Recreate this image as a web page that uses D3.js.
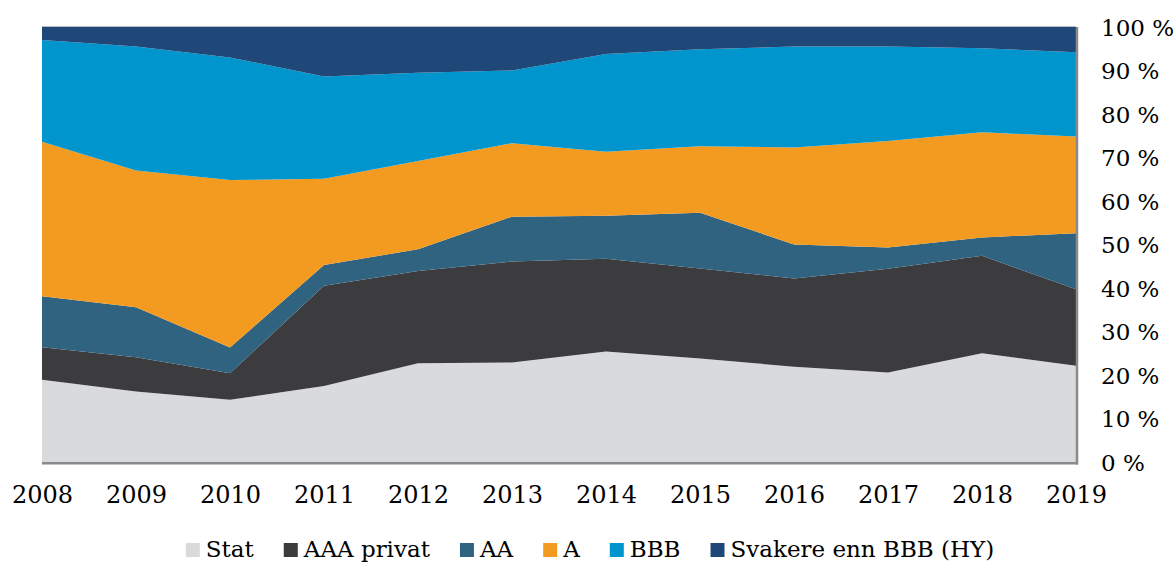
<!DOCTYPE html>
<html>
<head>
<meta charset="utf-8">
<script src="https://cdn.jsdelivr.net/npm/d3@7"></script>
<style>
	body { margin: 0; background: #fff; }
	svg { display: block; }
	text { font-family: "DejaVu Serif", serif; fill: #000; }
</style>
</head>
<body>
<div id="chart"></div>
<script>
//years on the x axis
var years = [2008, 2009, 2010, 2011, 2012, 2013, 2014, 2015, 2016, 2017, 2018, 2019];

//share of portfolio per rating, percent
var stat = [18.9, 16.2, 14.3, 17.5, 22.7, 22.9, 25.4, 23.8, 21.9, 20.6, 25.0, 22.1];
var aaaPrivat = [7.5, 7.9, 6.1, 23.0, 21.2, 23.2, 21.3, 20.7, 20.3, 23.8, 22.4, 17.6];
var aa = [11.7, 11.5, 5.9, 4.8, 5.0, 10.3, 9.9, 12.8, 7.8, 4.9, 4.2, 12.9];
var a = [35.5, 31.4, 38.5, 19.8, 20.3, 16.9, 14.7, 15.3, 22.3, 24.5, 24.2, 22.2];
var bbb = [23.4, 28.5, 28.2, 23.5, 20.3, 16.7, 22.5, 22.3, 23.2, 21.7, 19.3, 19.4];
var hy = [3.0, 4.5, 7.0, 11.4, 10.5, 10.0, 6.2, 5.1, 4.5, 4.5, 4.9, 5.8];

var seriesNames = ["Stat", "AAA privat", "AA", "A", "BBB", "Svakere enn BBB (HY)"];
var seriesColors = ["#d9dadc", "#3c3b3d", "#30637f", "#f39a21", "#0095cd", "#1f4879"];
var yTicks = [0, 10, 20, 30, 40, 50, 60, 70, 80, 90, 100];

var width = 1176, height = 562;
var margin = { top: 27, right: 100, bottom: 100, left: 42 };

var svg = d3.select("#chart").append("svg")
	.attr("width", width)
	.attr("height", height);

//build rows for the stack
var columns = [stat, aaaPrivat, aa, a, bbb, hy];
var rows = years.map(function (y, i) {
	var row = { year: y };
	seriesNames.forEach(function (name, k) {
		row[name] = columns[k][i];
	});
	return row;
});

var stack = d3.stack().keys(seriesNames).offset(d3.stackOffsetExpand);
var layers = stack(rows);

var x = d3.scaleLinear()
	.domain([years[0], years[years.length - 1]])
	.range([margin.left, width - margin.right]);

var y = d3.scaleLinear()
	.domain([0, 100])
	.range([height - margin.bottom, margin.top]);

var area = d3.area()
	.x(function (d) { return x(d.data.year); })
	.y0(function (d) { return y(d[0] * 100); })
	.y1(function (d) { return y(d[1] * 100); });

svg.append("g")
	.selectAll("path")
	.data(layers)
	.enter()
	.append("path")
	.attr("d", area)
	.attr("fill", function (d, i) { return seriesColors[i]; });

//frame: light top line, grey right and bottom lines
svg.append("line")
	.attr("x1", x.range()[0]).attr("x2", x.range()[1])
	.attr("y1", y(100) - 0.5).attr("y2", y(100) - 0.5)
	.attr("stroke", "#bdbdbd").attr("stroke-width", 1);
svg.append("line")
	.attr("x1", x.range()[1] + 1).attr("x2", x.range()[1] + 1)
	.attr("y1", y(100)).attr("y2", y(0) + 2.5)
	.attr("stroke", "#8a8a8a").attr("stroke-width", 2.5);
svg.append("line")
	.attr("x1", x.range()[0]).attr("x2", x.range()[1] + 2)
	.attr("y1", y(0) + 1.2).attr("y2", y(0) + 1.2)
	.attr("stroke", "#8a8a8a").attr("stroke-width", 2.5);

//right axis with percent labels
var yAxis = d3.axisRight(y)
	.tickValues(yTicks)
	.tickSize(0)
	.tickPadding(0)
	.tickFormat(function (d) { return d + " %"; });

var yG = svg.append("g")
	.attr("transform", "translate(1101,0)")
	.call(yAxis);
yG.select(".domain").remove();
yG.selectAll("text")
	.style("font-family", "DejaVu Serif")
	.style("font-size", "23px")
	.attr("dy", "0.36em");

//bottom axis with years
var xAxis = d3.axisBottom(x)
	.tickValues(years)
	.tickSize(0)
	.tickPadding(0)
	.tickFormat(d3.format("d"));

var xG = svg.append("g")
	.attr("transform", "translate(0,503)")
	.call(xAxis);
xG.select(".domain").remove();
xG.selectAll("text")
	.style("font-family", "DejaVu Serif")
	.style("font-size", "24px")
	.attr("y", 0)
	.attr("dy", 0);

//legend, centred under the chart
var legend = svg.append("g");
var pos = 0;
seriesNames.forEach(function (name, i) {
	var item = legend.append("g").attr("transform", "translate(" + pos + ",0)");
	item.append("rect")
		.attr("x", 0).attr("y", -14)
		.attr("width", 14).attr("height", 14)
		.attr("fill", seriesColors[i]);
	var t = item.append("text")
		.attr("x", 20).attr("y", 0)
		.style("font-size", "23px")
		.text(name);
	pos += 20 + t.node().getComputedTextLength() + 30;
});
pos -= 30;
legend.attr("transform", "translate(" + ((width - pos) / 2 + 2) + ",557)");
</script>
</body>
</html>
